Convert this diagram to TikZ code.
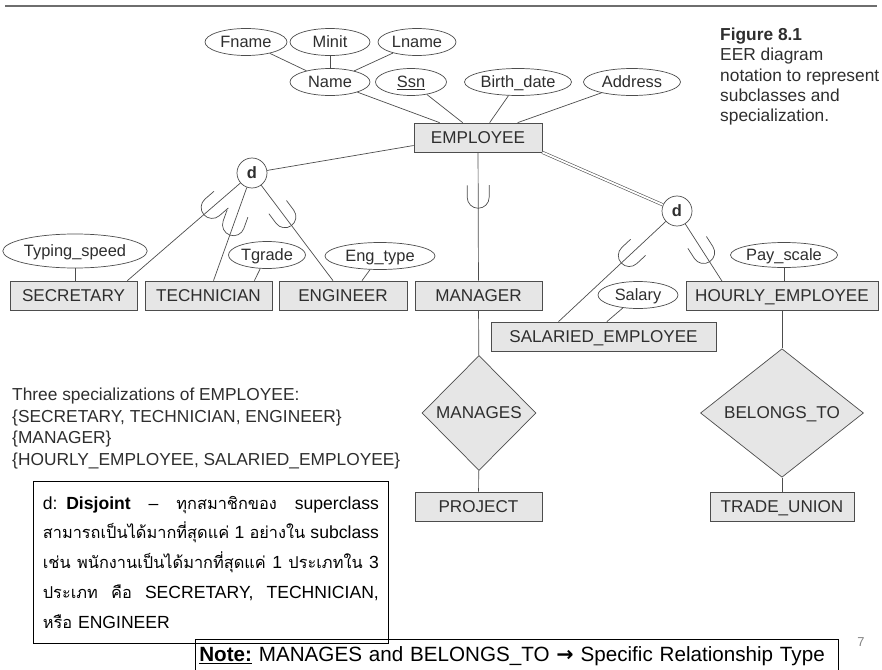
\documentclass[tikz,border=0pt]{standalone}
\usepackage{fontspec}
\setmainfont{Liberation Sans}
\newfontfamily\thaifont[Script=Thai, Scale=0.93]{Loma}
\newfontfamily\arrowfont{DejaVu Sans}
\usetikzlibrary{shapes.geometric}
\definecolor{linegray}{HTML}{4D4D4D}
\definecolor{boxfill}{HTML}{E6E6E6}
\definecolor{textgray}{HTML}{2E2E2E}
\definecolor{rulegray}{HTML}{6E6E6E}
\tikzset{
	entity/.style={draw=linegray, line width=0.6pt, fill=boxfill, text=textgray, minimum height=0.87cm, inner sep=0pt, text height=10.5pt, text depth=0.5pt, font=\fontsize{14.6}{16}\selectfont},
	attr/.style={draw=linegray, line width=0.6pt, ellipse, fill=white, text=textgray, minimum height=0.81cm, inner sep=0pt, text height=10pt, text depth=0.5pt, font=\fontsize{14}{16}\selectfont},
	relation/.style={draw=linegray, line width=0.6pt, diamond, fill=boxfill, text=textgray, inner sep=0pt, text height=10.5pt, text depth=0.5pt, font=\fontsize{14.6}{16}\selectfont},
	dcircle/.style={draw=linegray, line width=0.6pt, circle, fill=white, text=textgray, minimum size=0.9cm, inner sep=0pt, font=\fontsize{14}{16}\selectfont\bfseries},
	conn/.style={draw=linegray, line width=0.6pt},
	subsetat/.style={pos=#1, sloped, allow upside down},
	pics/subsetU/.style={code={\draw[linegray, line width=0.6pt] (-12,11) -- (0,11) arc[start angle=90, end angle=-90, radius=11] -- (-12,-11);}}
}
\begin{document}
\begin{tikzpicture}[x=0.03cm,y=-0.03cm]
	\useasboundingbox (0,0) rectangle (882,670);
	%top rule
	\draw[rulegray, line width=1.2pt] (5,6) -- (877,6);
	%entities
	\node[entity, minimum width=3.84cm] (employee) at (478,137.5) {EMPLOYEE};
	\node[entity, minimum width=3.81cm] (secretary) at (73.5,295.5) {SECRETARY};
	\node[entity, minimum width=3.81cm] (technician) at (208.5,295.5) {TECHNICIAN};
	\node[entity, minimum width=3.84cm] (engineer) at (343,295.5) {ENGINEER};
	\node[entity, minimum width=3.81cm] (manager) at (478.5,295.5) {MANAGER};
	\node[entity, minimum width=5.76cm] (hourly) at (782,296) {HOURLY\_EMPLOYEE};
	\node[entity, minimum width=6.75cm] (salaried) at (603.5,336.5) {SALARIED\_EMPLOYEE};
	\node[entity, minimum width=3.81cm] (project) at (478.5,506.5) {PROJECT};
	\node[entity, minimum width=4.32cm] (tradeunion) at (782,506.5) {TRADE\_UNION};
	%attributes of employee
	\node[attr, minimum width=2.46cm] (fname) at (246,42) {Fname};
	\node[attr, minimum width=2.40cm] (minit) at (330,42) {Minit};
	\node[attr, minimum width=2.34cm] (lname) at (417,42) {Lname};
	\node[attr, minimum width=2.40cm] (name) at (330,82) {Name};
	\node[attr, minimum width=2.13cm] (ssn) at (411,82) {\underline{Ssn}};
	\node[attr, minimum width=3.21cm] (birthdate) at (518,82) {Birth\_date};
	\node[attr, minimum width=2.91cm] (address) at (632,82) {Address};
	\draw[conn] (fname) -- (name);
	\draw[conn] (minit) -- (name);
	\draw[conn] (lname) -- (name);
	\draw[conn] (name) -- ([xshift=0.78cm]employee.north west);
	\draw[conn] (ssn) -- ([xshift=1.47cm]employee.north west);
	\draw[conn] (birthdate) -- ([xshift=2.28cm]employee.north west);
	\draw[conn] (address) -- ([xshift=3.12cm]employee.north west);
	%attributes of subclasses
	\node[attr, minimum width=3.93cm, minimum height=1.02cm] (typingspeed) at (75,251) {Typing\_speed};
	\node[attr, minimum width=2.31cm] (tgrade) at (267,255) {Tgrade};
	\node[attr, minimum width=3.30cm] (engtype) at (380,256) {Eng\_type};
	\node[attr, minimum width=3.18cm, minimum height=0.75cm] (payscale) at (784,255) {Pay\_scale};
	\node[attr, minimum width=2.40cm] (salary) at (638,295) {Salary};
	\draw[conn] (typingspeed) -- (typingspeed |- secretary.north);
	\draw[conn] (tgrade) -- ([xshift=-0.54cm]technician.north east);
	\draw[conn] (engtype) -- ([xshift=0.57cm]engineer.north);
	\draw[conn] (salary) -- ([xshift=0.1cm]salaried.north);
	\draw[conn] (payscale) -- (payscale |- hourly.north);
	%specialization 1
		\node[dcircle] (dleft) at (252,173) {d};
		\draw[conn] ([yshift=-0.24cm]employee.west) -- (dleft);
		\draw[conn] (dleft) -- ([xshift=-0.3cm]secretary.north east) pic[subsetat=0.25]{subsetU};
		\draw[conn] (dleft) -- ([xshift=0.15cm]technician.north) pic[subsetat=0.4]{subsetU};
		\draw[conn] (dleft) -- ([xshift=-0.3cm]engineer.north) pic[subsetat=0.33]{subsetU};
	%specialization 2
		\draw[conn] (employee) -- (manager) pic[subsetat=0.35]{subsetU};
	%specialization 3
		\node[dcircle] (dright) at (677,211) {d};
		\draw[conn, double=white, double distance=1.6pt, line width=0.5pt] (employee.south east) -- (dright);
		\draw[conn] (dright) -- ([xshift=-1.35cm]salaried.north) pic[subsetat=0.34]{subsetU};
		\draw[conn] (dright) -- ([xshift=-1.8cm]hourly.north) pic[subsetat=0.5]{subsetU};
	%relationships
	\node[relation, minimum width=3.42cm, minimum height=3.45cm] (manages) at (479,413) {MANAGES};
	\node[relation, minimum width=4.89cm, minimum height=3.45cm] (belongsto) at (782,413) {BELONGS\_TO};
	\draw[conn] (manager) -- (manages);
	\draw[conn] (manages) -- (project);
	\draw[conn] (hourly) -- (belongsto);
	\draw[conn] (belongsto) -- (tradeunion);
	%caption
	\node[anchor=north west, align=left, inner sep=0pt, text=textgray, font=\fontsize{14.8}{17.2}\selectfont] (caption) at (720,28) {\textbf{Figure 8.1}\\EER diagram\\notation to represent\\subclasses and\\specialization.};
	%specializations list
	\node[anchor=north west, align=left, inner sep=0pt, text=textgray, font=\fontsize{14.8}{18.4}\selectfont] (speclist) at (12,388) {Three specializations of EMPLOYEE:\\\{SECRETARY, TECHNICIAN, ENGINEER\}\\\{MANAGER\}\\\{HOURLY\_EMPLOYEE, SALARIED\_EMPLOYEE\}};
	%disjoint note
	\node[draw=black, line width=0.6pt, anchor=north west, minimum width=10.65cm, minimum height=4.86cm, text width=10.08cm, inner xsep=0.27cm, inner ysep=0pt, font=\fontsize{15}{25.5}\selectfont] (disjointnote) at (33,481) {%
		\hbox to 10.08cm{d: \textbf{Disjoint}\hfill–\hfill{\thaifont ทุกสมาชิกของ}\hfill superclass}
		\hbox to 10.08cm{{\thaifont สามารถเป็นได้มากที่สุดแค่}\hfill 1\hfill{\thaifont อย่างใน}\hfill subclass}
		\hbox to 10.08cm{{\thaifont เช่น}\hfill{\thaifont พนักงานเป็นได้มากที่สุดแค่}\hfill 1\hfill{\thaifont ประเภทใน}\hfill 3}
		\hbox to 10.08cm{{\thaifont ประเภท}\hfill{\thaifont คือ}\hfill SECRETARY,\hfill TECHNICIAN,}
		\hbox{{\thaifont หรือ} ENGINEER}};
	%relationship note
	\node[draw=black, line width=0.6pt, anchor=north west, minimum width=19.29cm, minimum height=1.02cm, text width=19.05cm, inner xsep=0.12cm, inner ysep=0pt, align=left, font=\fontsize{17.6}{20}\selectfont] (relnote) at (195,639) {\underline{\textbf{Note:}} MANAGES and BELONGS\_TO {\arrowfont\bfseries →} Specific Relationship Type};
	%page number
	\node[text=gray, font=\fontsize{11}{13}\selectfont] (pagenum) at (861,642) {7};
\end{tikzpicture}
\end{document}
